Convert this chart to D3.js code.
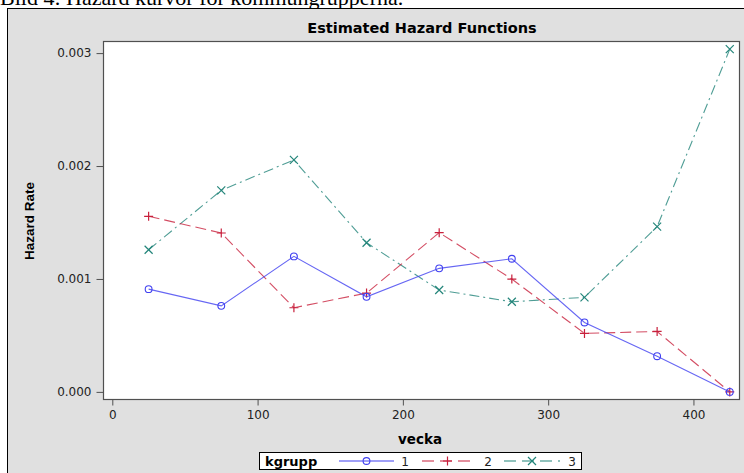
<!DOCTYPE html>
<html>
<head>
<meta charset="utf-8">
<script src="https://cdn.jsdelivr.net/npm/d3@7"></script>
<style>
  html, body { margin: 0; padding: 0; background: #ffffff; }
  svg { display: block; }
</style>
</head>
<body>
<svg id="chart" width="744" height="473"></svg>
<script>
// Estimated hazard rate per 50-week interval (midpoints), by municipality group
const weeks = [25, 75, 125, 175, 225, 275, 325, 375, 425];
const group1 = [0.000910, 0.000762, 0.001200, 0.000842, 0.001094, 0.001179, 0.000615, 0.000316, 0.000000];
const group2 = [0.001555, 0.001407, 0.000745, 0.000875, 0.001410, 0.000999, 0.000518, 0.000535, 0.000000];
const group3 = [0.001259, 0.001785, 0.002054, 0.001321, 0.000902, 0.000798, 0.000837, 0.001463, 0.003035];
const groupNames = ["1", "2", "3"];
const xTicks = [0, 100, 200, 300, 400];
const yTicks = [0.000, 0.001, 0.002, 0.003];

const caption = "Bild 4: Hazard kurvor för kommungrupperna.";
const title = "Estimated Hazard Functions";
const xLabel = "vecka";
const yLabel = "Hazard Rate";
const legendTitle = "kgrupp";

const series = [
  { name: groupNames[0], values: group1, color: "#4040f0", dash: null,       marker: "circle" },
  { name: groupNames[1], values: group2, color: "#c8203c", dash: "11,5",     marker: "plus" },
  { name: groupNames[2], values: group3, color: "#23857a", dash: "10,4,2,4", marker: "cross" }
];

const svg = d3.select("#chart");
const sans = "'DejaVu Sans', sans-serif";

// document caption above the graph frame
svg.append("text")
  .attr("x", 0).attr("y", 5)
  .attr("font-family", "'Liberation Serif', 'Times New Roman', serif")
  .attr("font-size", 22)
  .attr("fill", "#000")
  .text(caption);

// gray graph background with black frame
svg.append("rect")
  .attr("x", 7.5).attr("y", 8.5)
  .attr("width", 760).attr("height", 480)
  .attr("fill", "#e0e0e0")
  .attr("stroke", "#000").attr("stroke-width", 1);

// plot area
const plot = { left: 103.5, right: 739.5, top: 41.5, bottom: 399.5 };

const x = d3.scaleLinear().domain([-6.06, 431.7]).range([plot.left, plot.right]);
const y = d3.scaleLinear().domain([-0.0000674, 0.0031028]).range([plot.bottom, plot.top]);

svg.append("rect")
  .attr("x", plot.left).attr("y", plot.top)
  .attr("width", plot.right - plot.left).attr("height", plot.bottom - plot.top)
  .attr("fill", "#ffffff")
  .attr("stroke", "#505050").attr("stroke-width", 1.2);

// title
svg.append("text")
  .attr("x", 422).attr("y", 33)
  .attr("text-anchor", "middle")
  .attr("font-family", sans).attr("font-weight", "bold").attr("font-size", 14.5)
  .attr("fill", "#000")
  .text(title);

// axes
const xAxis = d3.axisBottom(x).tickValues(xTicks).tickSize(6).tickPadding(5).tickFormat(d3.format("d"));
const gx = svg.append("g").attr("transform", `translate(0,${plot.bottom})`).call(xAxis);
gx.select(".domain").remove();
gx.selectAll("line").attr("stroke", "#505050");
gx.selectAll("text").attr("font-family", sans).attr("font-size", 12).attr("fill", "#222");

const yAxis = d3.axisLeft(y).tickValues(yTicks).tickSize(7).tickPadding(5).tickFormat(d3.format(".3f"));
const gy = svg.append("g").attr("transform", `translate(${plot.left},0)`).call(yAxis);
gy.select(".domain").remove();
gy.selectAll("line").attr("stroke", "#505050");
gy.selectAll("text").attr("font-family", sans).attr("font-size", 12).attr("fill", "#222");

// axis labels
svg.append("text")
  .attr("x", 420).attr("y", 444)
  .attr("text-anchor", "middle")
  .attr("font-family", sans).attr("font-weight", "bold").attr("font-size", 13.5)
  .attr("fill", "#000")
  .text(xLabel);

svg.append("text")
  .attr("transform", "translate(34,221) rotate(-90)")
  .attr("text-anchor", "middle")
  .attr("font-family", "'Liberation Sans', Arial, sans-serif").attr("font-weight", "bold").attr("font-size", 13.5)
  .attr("fill", "#000")
  .text(yLabel);

// marker drawing
function drawMarker(g, kind, cx, cy, color) {
  if (kind === "circle") {
    g.append("circle").attr("cx", cx).attr("cy", cy).attr("r", 3.4)
      .attr("fill", "none").attr("stroke", color).attr("stroke-width", 1.1);
  } else if (kind === "plus") {
    g.append("path")
      .attr("d", `M${cx - 4.5},${cy}H${cx + 4.5}M${cx},${cy - 4.5}V${cy + 4.5}`)
      .attr("stroke", color).attr("stroke-width", 1.2);
  } else {
    g.append("path")
      .attr("d", `M${cx - 4},${cy - 4}L${cx + 4},${cy + 4}M${cx - 4},${cy + 4}L${cx + 4},${cy - 4}`)
      .attr("stroke", color).attr("stroke-width", 1.2);
  }
}

const line = d3.line().x(d => x(d[0])).y(d => y(d[1]));
const marks = svg.append("g");

// draw in reverse so group 1 sits on top
series.slice().reverse().forEach(s => {
  const pts = weeks.map((w, i) => [w, s.values[i]]);
  marks.append("path")
    .datum(pts)
    .attr("d", line)
    .attr("fill", "none")
    .attr("stroke", s.color)
    .attr("stroke-opacity", 0.8)
    .attr("stroke-width", 1.1)
    .attr("stroke-dasharray", s.dash);
  const mg = marks.append("g");
  pts.forEach(p => drawMarker(mg, s.marker, x(p[0]), y(p[1]), s.color));
});

// legend
const leg = svg.append("g");
leg.append("rect")
  .attr("x", 259.5).attr("y", 452.5).attr("width", 322).attr("height", 17)
  .attr("fill", "#ffffff").attr("stroke", "#000").attr("stroke-width", 1);
leg.append("text")
  .attr("x", 265).attr("y", 465.5)
  .attr("font-family", sans).attr("font-weight", "bold").attr("font-size", 13)
  .attr("fill", "#000")
  .text(legendTitle);

const legendItems = [
  { x1: 339, x2: 394, labelX: 405 },
  { x1: 422, x2: 473, labelX: 488 },
  { x1: 504, x2: 560, labelX: 572 }
];
series.forEach((s, i) => {
  const it = legendItems[i];
  const cy = 461;
  leg.append("line")
    .attr("x1", it.x1).attr("x2", it.x2).attr("y1", cy).attr("y2", cy)
    .attr("stroke", s.color).attr("stroke-width", 1.1)
    .attr("stroke-dasharray", s.dash ? "12,6" : null);
  drawMarker(leg, s.marker, (it.x1 + it.x2) / 2, cy, s.color);
  leg.append("text")
    .attr("x", it.labelX).attr("y", 465.5)
    .attr("text-anchor", "middle")
    .attr("font-family", sans).attr("font-size", 12)
    .attr("fill", "#222")
    .text(s.name);
});
</script>
</body>
</html>
